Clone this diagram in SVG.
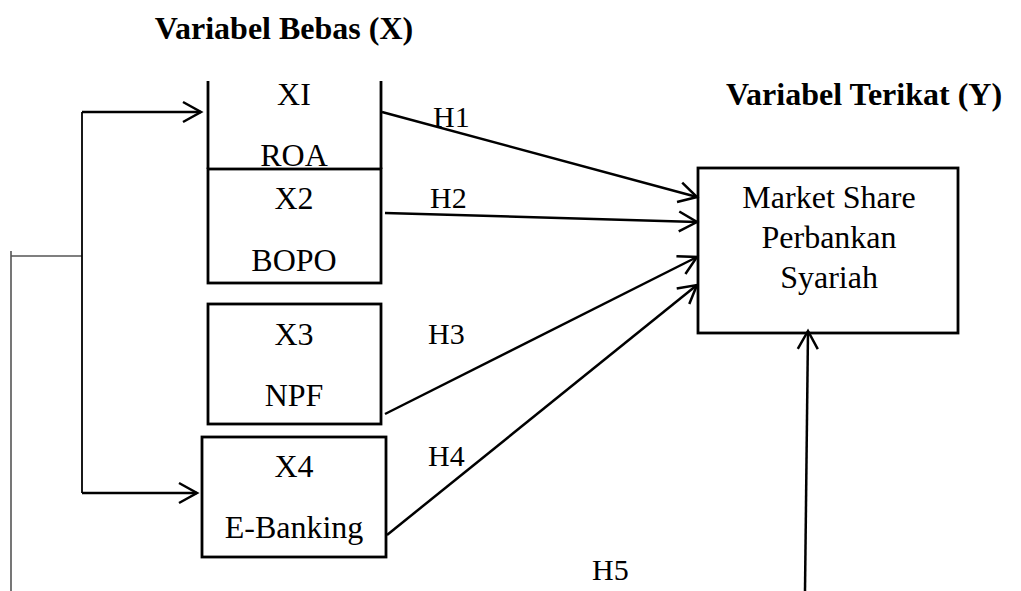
<svg xmlns="http://www.w3.org/2000/svg" width="1021" height="591" viewBox="0 0 1021 591">
  <style>
    .t { font-family: "Liberation Serif", "Times New Roman", serif; font-size: 32px; fill: #000; text-anchor: middle; }
    .h { font-family: "Liberation Serif", "Times New Roman", serif; font-size: 30px; fill: #000; }
    .title { font-family: "Liberation Serif", "Times New Roman", serif; font-size: 32px; font-weight: bold; fill: #000; text-anchor: middle; }
    .box { fill: none; stroke: #000; stroke-width: 2.8; }
    .edge { fill: none; stroke: #000; stroke-width: 2.5; marker-end: url(#ah); }
    .feed { fill: none; stroke: #000; stroke-width: 1.8; }
    .bracket { fill: none; stroke: #555; stroke-width: 1.6; }
  </style>
  <defs>
    <marker id="ah" markerUnits="userSpaceOnUse" markerWidth="24" markerHeight="24" refX="18" refY="10" orient="auto" overflow="visible">
      <path d="M0,0 L18,10 L0,20" fill="none" stroke="#000" stroke-width="2.5"/>
    </marker>
  </defs>

  <!-- headings -->
  <text class="title" x="284" y="39">Variabel Bebas (X)</text>
  <text class="title" x="864" y="105">Variabel Terikat (Y)</text>

  <!-- independent variables -->
  <g id="x1">
    <path class="box" d="M208,81 V169 M381,81 V169"/>
    <text class="t" x="294" y="105">XI</text>
    <text class="t" x="294" y="166">ROA</text>
  </g>
  <g id="x2">
    <rect class="box" x="208" y="169" width="173" height="114"/>
    <text class="t" x="294" y="209">X2</text>
    <text class="t" x="294" y="271">BOPO</text>
  </g>
  <g id="x3">
    <rect class="box" x="208" y="304" width="173" height="120"/>
    <text class="t" x="294" y="345">X3</text>
    <text class="t" x="294" y="406">NPF</text>
  </g>
  <g id="x4">
    <rect class="box" x="202" y="437" width="184" height="120"/>
    <text class="t" x="294" y="477">X4</text>
    <text class="t" x="294" y="538">E-Banking</text>
  </g>

  <!-- dependent variable -->
  <g id="y">
    <rect class="box" x="698" y="168" width="260" height="165"/>
    <text class="t" x="829" y="208">Market Share</text>
    <text class="t" x="829" y="248">Perbankan</text>
    <text class="t" x="829" y="288">Syariah</text>
  </g>

  <!-- connectors -->
  <g id="connectors">
    <path class="bracket" d="M11,251 V591 M11,256 H82"/>
    <path class="feed" d="M82,112 V493"/>
    <path class="edge" d="M82,112 H201"/>
    <path class="edge" d="M82,493 H197"/>
    <path class="edge" d="M382,112 L697,197"/>
    <path class="edge" d="M385,213 L697,222"/>
    <path class="edge" d="M385,414 L697,257"/>
    <path class="edge" d="M387,535 L697,285"/>
    <path class="edge" d="M805,591 L808,331"/>
  </g>

  <!-- hypothesis labels -->
  <g id="labels">
    <text class="h" x="433" y="127">H1</text>
    <text class="h" x="430" y="208">H2</text>
    <text class="h" x="428" y="344">H3</text>
    <text class="h" x="428" y="466">H4</text>
    <text class="h" x="592" y="580">H5</text>
  </g>
</svg>
